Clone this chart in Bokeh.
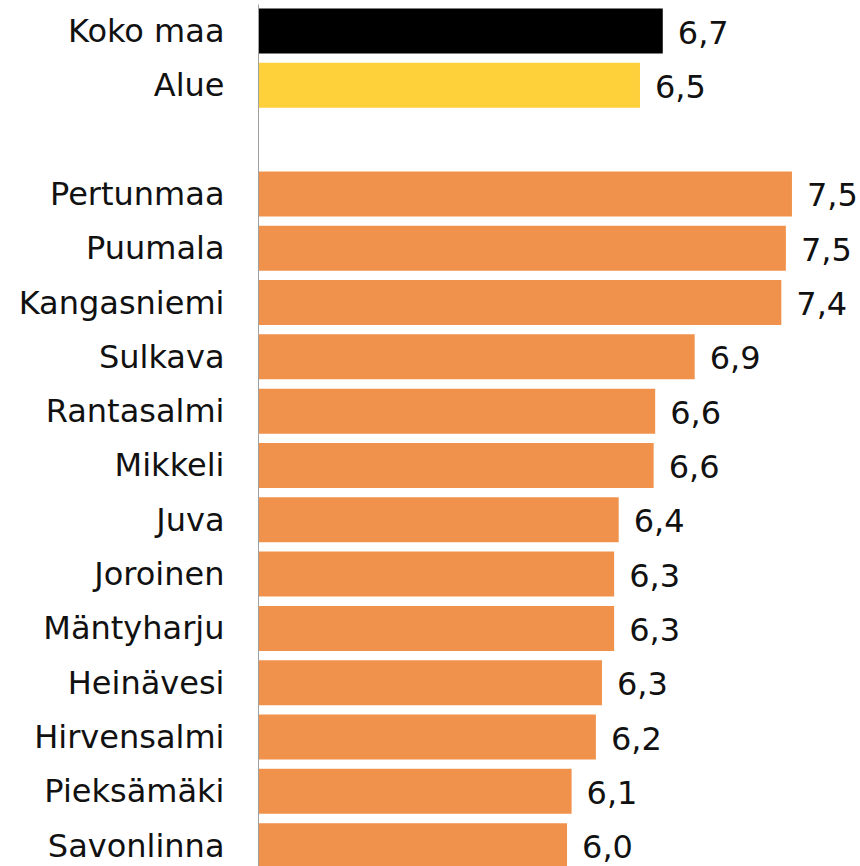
from bokeh.plotting import figure
from bokeh.models import ColumnDataSource, Range1d, FixedTicker
from bokeh.core.properties import value
from bokeh.embed import file_html
from bokeh.resources import INLINE

# Data
summary_names = ["Koko maa", "Alue"]
summary_values = [6.66, 6.51]
municipalities = ["Pertunmaa", "Puumala", "Kangasniemi", "Sulkava", "Rantasalmi",
                  "Mikkeli", "Juva", "Joroinen", "Mäntyharju", "Heinävesi",
                  "Hirvensalmi", "Pieksämäki", "Savonlinna"]
municipality_values = [7.51, 7.47, 7.44, 6.87, 6.61, 6.60, 6.37, 6.34, 6.34,
                       6.26, 6.22, 6.06, 6.03]

X_START = 4.0
names = summary_names + municipalities
vals = summary_values + municipality_values
pos = list(range(len(summary_names))) + [len(summary_names) + 1 + i for i in range(len(municipalities))]
colors = ["#000000", "#FED13A"] + ["#F0924B"] * len(municipalities)
labels = [f"{v:.1f}".replace(".", ",") for v in vals]

src = ColumnDataSource(dict(y=pos, v=vals, c=colors, lab=labels))

p = figure(width=860, height=866, output_backend="svg", toolbar_location=None,
           x_range=Range1d(X_START, 7.961), y_range=Range1d(15.384, -0.488),
           x_axis_location=None, min_border_left=258, min_border_right=0,
           min_border_top=4, min_border_bottom=0)
p.outline_line_color = None
p.xgrid.visible = False
p.ygrid.visible = False
p.background_fill_color = "white"

p.hbar(y="y", left=X_START, right="v", height=0.829, fill_color="c", line_color=None, source=src)
p.text(x="v", y="y", text="lab", x_offset=15, y_offset=1, text_baseline="middle",
       text_font=value("DejaVu Sans"), text_font_size="32px", text_color="#111111", source=src)

ax = p.yaxis[0]
ax.ticker = FixedTicker(ticks=pos)
ax.major_label_overrides = {pp: n for pp, n in zip(pos, names)}
ax.major_tick_out = 0
ax.major_tick_in = 0
ax.minor_tick_out = 0
ax.minor_tick_in = 0
ax.major_label_standoff = 34
ax.major_label_text_font = "DejaVu Sans"
ax.major_label_text_font_size = "32px"
ax.major_label_text_color = "#111111"
ax.axis_line_color = "#A0A0A0"
ax.axis_line_width = 1

open("out.html", "w").write(file_html(p, INLINE))
